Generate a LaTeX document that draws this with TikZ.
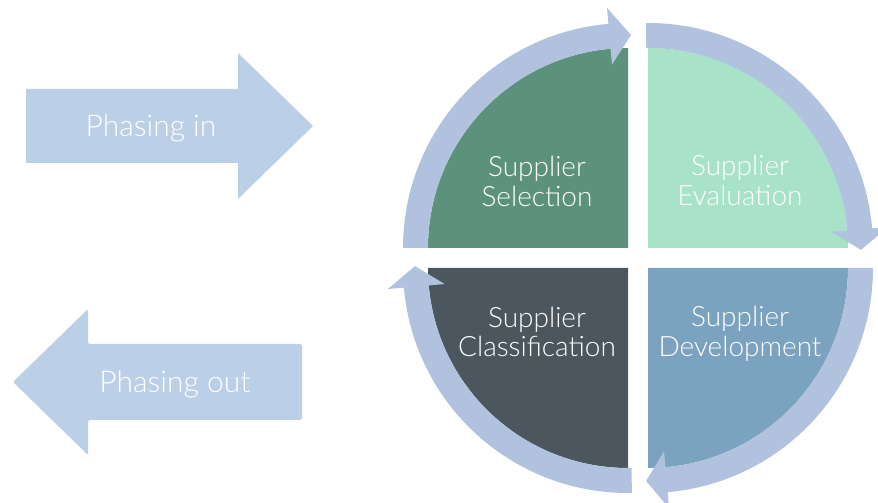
\documentclass[tikz,border=0pt]{standalone}
\usepackage{fontspec}
\setmainfont{Lato}[UprightFont={* Light}]
\definecolor{qtl}{HTML}{5C917B}
\definecolor{qtr}{HTML}{A8E2C8}
\definecolor{qbl}{HTML}{4B565F}
\definecolor{qbr}{HTML}{7BA2BF}
\definecolor{ringc}{HTML}{B0C2DD}
\definecolor{sidec}{HTML}{BBCFE6}
\begin{document}
\begin{tikzpicture}[x=1pt,y=1pt,
  ring/.style={fill=ringc},
  side/.style={fill=sidec},
  lab/.style={text=white,font=\fontsize{28}{30}\selectfont,anchor=base,inner sep=0pt},
  plab/.style={text=white,font=\fontsize{30}{32}\selectfont,anchor=base,inner sep=0pt}]
\useasboundingbox (0,0) rectangle (878,503);
\clip (0,0) rectangle (878,503);
% side arrows
\fill[side] (26,340) -- (238,340) -- (238,304) -- (313,377) -- (238,450) -- (238,414) -- (26,414) -- cycle;
\fill[side,rounded corners=2pt] (302,83) -- (88,83) -- (88,48) -- (13,121) -- (88,194) -- (88,159) -- (302,159) -- cycle;
% quadrants
\fill[qtl] (628,255) -- (428,255) arc[start angle=180,end angle=90,radius=200pt] -- cycle;
\fill[qtr] (648,255) -- (648,455) arc[start angle=90,end angle=0,radius=200pt] -- cycle;
\fill[qbr] (648,235) -- (848,235) arc[start angle=0,end angle=-90,radius=200pt] -- cycle;
\fill[qbl] (628,235) -- (628,35) arc[start angle=270,end angle=180,radius=200pt] -- cycle;
% ring arrows
\fill[ring,shift={(628,255)}] (180:225pt) arc[start angle=180,end angle=95,radius=225pt] -- (95:241pt) -- (89.2:213pt) -- (95:184pt) -- (95:200pt) arc[start angle=95,end angle=180,radius=200pt] -- cycle;
\fill[ring,shift={(648,255)}] (90.5:225pt) arc[start angle=90.5,end angle=5,radius=225pt] -- (5:241pt) -- (-0.5:213pt) -- (5:184pt) -- (5:200pt) arc[start angle=5,end angle=90.5,radius=200pt] -- cycle;
\fill[ring,shift={(648,235)}] (0:225pt) arc[start angle=0,end angle=-85,radius=225pt] -- (-85:241pt) -- (-90.5:213pt) -- (-85:184pt) -- (-85:200pt) arc[start angle=-85,end angle=0,radius=200pt] -- cycle;
\fill[ring,shift={(628,235)}] (271:225pt) arc[start angle=271,end angle=185,radius=225pt] -- (185:241pt) -- (179.5:213pt) -- (185:184pt) -- (185:200pt) arc[start angle=185,end angle=271,radius=200pt] -- cycle;
% labels
\node[plab] (pin) at (151,366) {Phasing in};
\node[plab] (pout) at (175,110) {Phasing out};
\node[lab] (sel1) at (537,326) {Supplier};
\node[lab] (sel2) at (537,296) {Selection};
\node[lab] (eva1) at (740,327) {Supplier};
\node[lab] (eva2) at (740,297) {Evaluation};
\node[lab] (cla1) at (537,175) {Supplier};
\node[lab] (cla2) at (537,146) {Classification};
\node[lab] (dev1) at (740,176) {Supplier};
\node[lab] (dev2) at (740,146) {Development};
\end{tikzpicture}
\end{document}
